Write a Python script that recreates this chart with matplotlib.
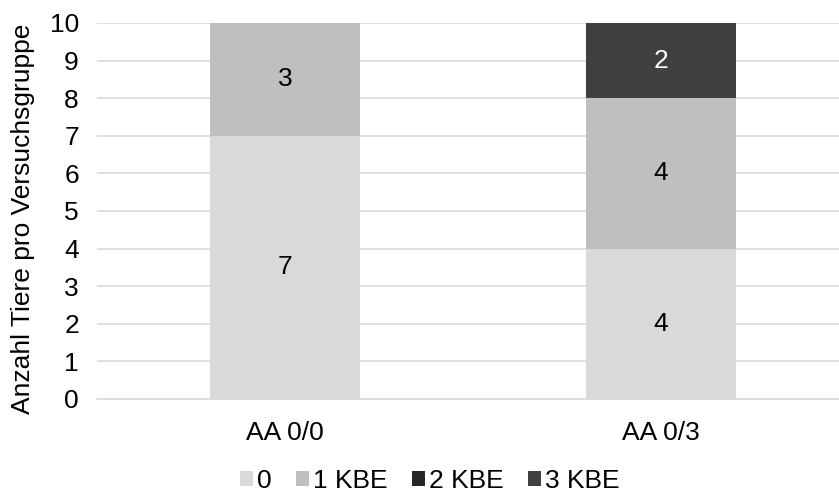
import matplotlib
matplotlib.use("Agg")
import matplotlib.pyplot as plt
import numpy as np

plt.rcParams['font.family'] = ['Liberation Sans', 'DejaVu Sans']

categories = ["AA 0/0", "AA 0/3"]
series_names = ["0", "1 KBE", "2 KBE", "3 KBE"]
values = {
    "0": [7, 4],
    "1 KBE": [3, 4],
    "2 KBE": [0, 0],
    "3 KBE": [0, 2],
}
colors = {"0": "#d9d9d9", "1 KBE": "#bfbfbf", "2 KBE": "#262626", "3 KBE": "#404040"}
label_colors = {"0": "#000000", "1 KBE": "#000000", "2 KBE": "#ffffff", "3 KBE": "#ffffff"}
yticks = list(range(0, 11))

FS = 19

fig = plt.figure(figsize=(8.39, 4.96), dpi=100)
ax = fig.add_axes([97/839, 97/496, 1 - 97/839, 376/496])

x = np.arange(len(categories))
bottom = np.zeros(len(categories))
handles = []
for name in series_names:
    v = np.array(values[name], dtype=float)
    b = ax.bar(x, v, width=0.4, bottom=bottom, color=colors[name], label=name, zorder=3)
    handles.append(b)
    for xi, vi, bi in zip(x, v, bottom):
        if vi > 0:
            ax.text(xi, bi + vi / 2, f"{int(vi)}", ha="center", va="center",
                    fontsize=FS, color=label_colors[name], zorder=4)
    bottom += v

ax.set_xlim(-0.5, (839 - 97) / 376 - 0.5)
ax.set_ylim(0, 10)
ax.set_yticks(yticks)
ax.set_yticklabels([str(t) for t in yticks], fontsize=FS, color="#000000")
ax.set_xticks(x)
ax.set_xticklabels(categories, fontsize=FS, color="#000000")
ax.tick_params(axis="both", length=0)
ax.tick_params(axis="y", pad=13)
ax.tick_params(axis="x", pad=16)
ax.grid(axis="y", color="#d9d9d9", linewidth=1.2, zorder=0)
for s in ["top", "right", "left"]:
    ax.spines[s].set_visible(False)
ax.spines["bottom"].set_color("#d9d9d9")
ax.spines["bottom"].set_linewidth(1.2)
ax.spines["bottom"].set_zorder(5)
ax.set_ylabel("Anzahl Tiere pro Versuchsgruppe", fontsize=FS)
ax.yaxis.set_label_coords(-0.083, 0.48)

fig.legend(handles=handles, labels=series_names, loc="center", bbox_to_anchor=(430/839, 1 - 481/496),
           ncol=4, frameon=False, fontsize=FS, handlelength=0.5, handleheight=0.5,
           handletextpad=0.15, columnspacing=0.92, borderpad=0)

fig.savefig("out.png", dpi=100)
